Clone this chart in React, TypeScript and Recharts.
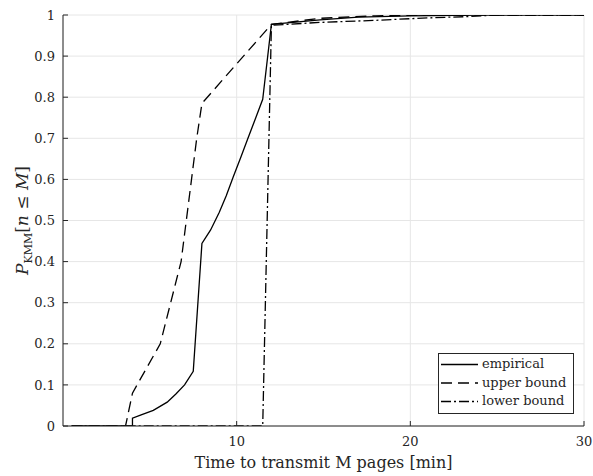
import React from 'react';
import { LineChart, Line, XAxis, YAxis, CartesianGrid } from 'recharts';

const empiricalX = [0.5, 4.0, 4.0, 4.5, 5.2, 6.0, 6.5, 7.0, 7.5, 8.0, 8.5, 9.0, 9.4, 9.8, 10.25, 10.65, 11.1, 11.5, 12.0, 14.8, 17, 20, 24, 30];
const empiricalY = [0, 0, 0.019, 0.027, 0.038, 0.058, 0.078, 0.1, 0.133, 0.444, 0.477, 0.52, 0.56, 0.606, 0.655, 0.7, 0.75, 0.795, 0.977, 0.988, 0.995, 0.998, 1, 1];

const upperX = [0.5, 3.6, 4.0, 4.8, 5.6, 6.2, 6.8, 7.1, 7.4, 7.7, 8.0, 12.0, 14.8, 18, 22, 30];
const upperY = [0, 0, 0.08, 0.14, 0.2, 0.3, 0.4, 0.5, 0.6, 0.7, 0.785, 0.977, 0.992, 0.998, 1, 1];

const lowerX = [0.5, 11.5, 12.0, 14.8, 18, 21, 23.2, 25, 30];
const lowerY = [0, 0, 0.975, 0.982, 0.987, 0.993, 0.996, 1, 1];

const xTicks = [10, 20, 30];
const yTicks = [0, 0.1, 0.2, 0.3, 0.4, 0.5, 0.6, 0.7, 0.8, 0.9, 1];

const seriesNames = ['empirical', 'upper bound', 'lower bound'];

const toPoints = (xs: number[], ys: number[]) => xs.map((x, i) => ({ x, y: ys[i] }));

const series = [
  { name: seriesNames[0], data: toPoints(empiricalX, empiricalY), dash: undefined as string | undefined },
  { name: seriesNames[1], data: toPoints(upperX, upperY), dash: '11 6' },
  { name: seriesNames[2], data: toPoints(lowerX, lowerY), dash: '10 3 2 3' },
];

const FONT = 'DejaVu Serif';

const XTick = (props: any) => {
  const { x, y, payload } = props;
  return (
    <g>
      <line x1={x} x2={x} y1={y} y2={y - 5} stroke="#262626" strokeWidth={1} />
      <text x={x} y={y + 20} textAnchor="middle" fontFamily={FONT} fontSize={13} fill="#262626">
        {String(payload.value)}
      </text>
    </g>
  );
};

const YTick = (props: any) => {
  const { x, y, payload } = props;
  return (
    <g>
      <line x1={x} x2={x + 5} y1={y} y2={y} stroke="#262626" strokeWidth={1} />
      <text x={x - 8} y={y} dy="0.36em" textAnchor="end" fontFamily={FONT} fontSize={13} fill="#262626">
        {String(payload.value)}
      </text>
    </g>
  );
};

const YLabel = (props: any) => {
  const vb = props.viewBox || {};
  const cx = (vb.x || 0) + 28;
  const cy = (vb.y || 0) + (vb.height || 0) / 2;
  return (
    <text
      x={cx}
      y={cy}
      transform={`rotate(-90, ${cx}, ${cy})`}
      textAnchor="middle"
      fontFamily={FONT}
      fontSize={17}
      fill="#262626"
    >
      <tspan fontStyle="italic">P</tspan>
      <tspan fontSize={11} dy={4}>KMM</tspan>
      <tspan dy={-4}>[</tspan>
      <tspan fontStyle="italic">n</tspan>
      <tspan> ≤ </tspan>
      <tspan fontStyle="italic">M</tspan>
      <tspan>]</tspan>
    </text>
  );
};

const XLabel = (props: any) => {
  const vb = props.viewBox || {};
  const cx = (vb.x || 0) + (vb.width || 0) / 2;
  const cy = (vb.y || 0) + 42;
  return (
    <text x={cx} y={cy} textAnchor="middle" fontFamily={FONT} fontSize={16} fill="#262626">
      Time to transmit M pages [min]
    </text>
  );
};

const LegendBox = () => (
  <svg width={136} height={61} style={{ display: 'block' }}>
    <rect x={0.5} y={0.5} width={135} height={60} fill="#fff" stroke="#262626" strokeWidth={1} />
    {series.map((s, i) => {
      const cy = 11.5 + i * 18.5;
      return (
        <g key={s.name}>
          <line x1={3} x2={40} y1={cy} y2={cy} stroke="#000" strokeWidth={1.3} strokeDasharray={s.dash} />
          <text x={44} y={cy} dy="0.3em" fontFamily={FONT} fontSize={13} fill="#262626">
            {s.name}
          </text>
        </g>
      );
    })}
  </svg>
);

export default function App() {
  return (
    <div style={{ position: 'absolute', left: 0, top: 0, width: 593, height: 476, background: '#fff' }}>
      <LineChart width={593} height={476} margin={{ top: 15, right: 9, bottom: 0, left: 0 }}>
        <CartesianGrid stroke="#e6e6e6" strokeWidth={1} />
        <XAxis
          type="number"
          dataKey="x"
          domain={[0, 30]}
          ticks={xTicks}
          allowDataOverflow
          height={50}
          tickSize={0}
          tickMargin={0}
          tickLine={false}
          axisLine={{ stroke: '#262626', strokeWidth: 1 }}
          tick={<XTick />}
          label={{ content: <XLabel /> } as any}
        />
        <YAxis
          type="number"
          dataKey="y"
          domain={[0, 1]}
          ticks={yTicks}
          allowDataOverflow
          width={63}
          tickSize={0}
          tickMargin={0}
          tickLine={false}
          axisLine={{ stroke: '#262626', strokeWidth: 1 }}
          tick={<YTick />}
          label={{ content: <YLabel /> } as any}
        />
        {series.map((s) => (
          <Line
            key={s.name}
            name={s.name}
            data={s.data}
            dataKey="y"
            type="linear"
            stroke="#000"
            strokeWidth={1.3}
            strokeDasharray={s.dash}
            dot={false}
            activeDot={false}
            isAnimationActive={false}
          />
        ))}
      </LineChart>
      <div style={{ position: 'absolute', left: 438, top: 353 }}>
        <LegendBox />
      </div>
    </div>
  );
}
